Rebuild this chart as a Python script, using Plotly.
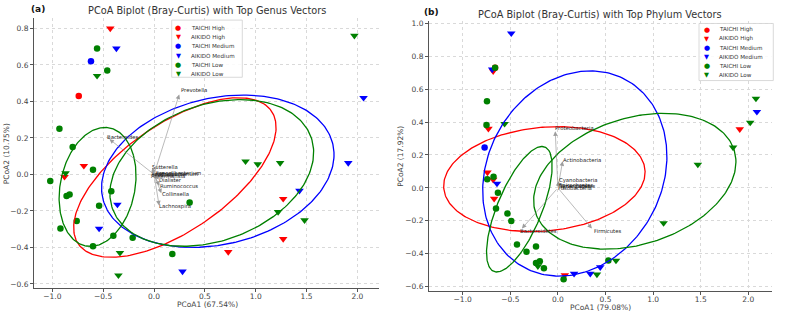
import numpy as np
import plotly.graph_objects as go

W, H = 787, 312
FONT = "DejaVu Sans"

# ---------------- legend / groups ----------------
group_names = ["TAICHI High", "AIKIDO High", "TAICHI Medium", "AIKIDO Medium", "TAICHI Low", "AIKIDO Low"]
group_colors = ["red", "red", "blue", "blue", "green", "green"]
group_symbols = ["circle", "triangle-down", "circle", "triangle-down", "circle", "triangle-down"]

# ---------------- panel (a): genus ----------------
a_th_x = [-0.74]
a_th_y = [0.43]
a_ah_x = [-0.43, -0.69, -0.88, 1.27, 1.27, 0.73]
a_ah_y = [0.80, 0.047, -0.013, -0.134, -0.354, -0.425]
a_tm_x = [-0.62]
a_tm_y = [0.62]
a_am_x = [-0.37, 2.06, 1.91, 1.43, 0.28, -0.36, -0.54]
a_am_y = [0.69, 0.42, 0.063, -0.089, -0.532, -0.165, -0.297]
a_tl_x = [-0.56, -0.46, -0.93, -0.80, 0.18, 0.35, -0.21, -0.40, -0.42, -0.54, -0.60, -0.60, -0.76, -0.92, -0.83, -0.86, -1.02]
a_tl_y = [0.69, 0.57, 0.25, 0.15, -0.436, -0.154, -0.347, -0.336, -0.092, -0.172, -0.394, 0.025, -0.255, -0.297, -0.11, -0.118, -0.036]
a_al_x = [-0.56, 1.97, 0.90, 1.02, 1.24, 1.22, 1.48, -0.335, -0.35, -0.87]
a_al_y = [0.54, 0.76, 0.072, 0.056, 0.063, -0.206, -0.251, -0.43, -0.553, 0.007]

# confidence ellipses (a): colour, centre, semi-axes, angle (deg, data space)
a_ell_color = ["red", "blue", "green", "green"]
a_ell_cx = [0.205, 0.627, -0.555, 0.568]
a_ell_cy = [-0.017, 0.0175, -0.0685, 0.008]
a_ell_a = [1.037, 1.147, 0.393, 1.009]
a_ell_b = [0.326, 0.406, 0.308, 0.383]
a_ell_ang = [17.2, 5.2, 25.9, 7.5]

a_vec_names = ["Prevotella", "Bacteroides", "Sutterella", "Faecalibacterium", "Bifidobacterium",
               "Agathobacter", "Akkermansia", "Blautia", "Dialister", "Ruminococcus", "Collinsella", "Lachnospira"]
a_vec_x = [0.248, -0.438, -0.015, 0.019, 0.022, -0.028, -0.024, 0.012, 0.048, 0.053, 0.072, 0.050]
a_vec_y = [0.438, 0.193, 0.038, 0.005, 0.003, -0.002, -0.006, -0.001, -0.028, -0.062, -0.103, -0.170]

# ---------------- panel (b): phylum ----------------
b_th_x = [-0.66]
b_th_y = [0.73]
b_ah_x = [-0.68, -0.73, 1.91, -0.74, -0.68, -0.67, 0.073]
b_ah_y = [0.71, 0.36, 0.357, 0.094, 0.05, -0.066, -0.53]
b_tm_x = [-0.77]
b_tm_y = [0.246]
b_am_x = [-0.49, -0.69, -0.64, 0.17, 0.34, 0.445, 2.09]
b_am_y = [0.94, 0.72, 0.026, -0.522, -0.522, -0.482, 0.463]
b_tl_x = [-0.66, -0.745, -0.75, -0.742, -0.676, -0.63, -0.65, -0.53, -0.49, -0.43, -0.33, -0.23, -0.23, -0.19, -0.147, 0.06, 0.53]
b_tl_y = [0.73, 0.527, 0.383, 0.052, 0.068, -0.03, -0.126, -0.156, -0.202, -0.344, -0.388, -0.356, -0.456, -0.446, -0.488, -0.556, -0.442]
b_al_x = [-0.56, 1.84, 2.02, 2.08, -0.21, 0.41, 0.61, 1.11, 1.47]
b_al_y = [0.39, 0.246, 0.397, 0.543, -0.476, -0.526, -0.442, -0.214, 0.142]

b_ell_color = ["red", "blue", "green", "green"]
b_ell_cx = [-0.142, 0.1775, -0.405, 0.8075]
b_ell_cy = [0.0535, 0.0875, -0.13, 0.0405]
b_ell_a = [1.059, 0.977, 0.473, 1.070]
b_ell_b = [0.316, 0.609, 0.202, 0.393]
b_ell_ang = [2.5, 10.2, 49.2, 7.3]

b_vec_names = ["Proteobacteria", "Actinobacteria", "Cyanobacteria", "Spirochaetes", "Tenericutes",
               "Synergistetes", "Fusobacteria", "Bacteroidetes", "Firmicutes"]
b_vec_x = [-0.028, 0.050, 0.007, 0.006, 0.006, 0.006, 0.005, -0.378, 0.357]
b_vec_y = [0.344, 0.162, 0.040, 0.015, 0.010, 0.006, 0.002, -0.247, -0.247]

# ---------------- helpers ----------------
def px(x):
    return x / W

def py(y):
    return 1 - y / H

def ellipse_xy(cx, cy, a, b, ang, n=240):
    t = np.linspace(0, 2 * np.pi, n)
    th = np.deg2rad(ang)
    x = cx + a * np.cos(t) * np.cos(th) - b * np.sin(t) * np.sin(th)
    y = cy + a * np.cos(t) * np.sin(th) + b * np.sin(t) * np.cos(th)
    return x, y

fig = go.Figure()
annotations = []
shapes = []

panels = [
    dict(xa="x", ya="y",
         pts=[(a_th_x, a_th_y), (a_ah_x, a_ah_y), (a_tm_x, a_tm_y), (a_am_x, a_am_y), (a_tl_x, a_tl_y), (a_al_x, a_al_y)],
         ell=(a_ell_color, a_ell_cx, a_ell_cy, a_ell_a, a_ell_b, a_ell_ang),
         vec=(a_vec_names, a_vec_x, a_vec_y)),
    dict(xa="x2", ya="y2",
         pts=[(b_th_x, b_th_y), (b_ah_x, b_ah_y), (b_tm_x, b_tm_y), (b_am_x, b_am_y), (b_tl_x, b_tl_y), (b_al_x, b_al_y)],
         ell=(b_ell_color, b_ell_cx, b_ell_cy, b_ell_a, b_ell_b, b_ell_ang),
         vec=(b_vec_names, b_vec_x, b_vec_y)),
]

for p in panels:
    for gi, (gx, gy) in enumerate(p["pts"]):
        fig.add_trace(go.Scatter(
            x=gx, y=gy, mode="markers", xaxis=p["xa"], yaxis=p["ya"],
            name=group_names[gi], showlegend=False,
            marker=dict(color=group_colors[gi], symbol=group_symbols[gi],
                        size=6.5 if group_symbols[gi] == "circle" else 7.5, line=dict(width=0)),
        ))
    col, cx, cy, ea, eb, ang = p["ell"]
    for i in range(len(col)):
        ex, ey = ellipse_xy(cx[i], cy[i], ea[i], eb[i], ang[i])
        fig.add_trace(go.Scatter(
            x=ex, y=ey, mode="lines", xaxis=p["xa"], yaxis=p["ya"], showlegend=False,
            line=dict(color=col[i], width=1.3), hoverinfo="skip",
        ))
    names, vx, vy = p["vec"]
    for n, x, y in zip(names, vx, vy):
        annotations.append(dict(
            x=x, y=y, ax=0, ay=0, xref=p["xa"], yref=p["ya"], axref=p["xa"], ayref=p["ya"],
            text="", showarrow=True, arrowhead=2, arrowsize=1.3, arrowwidth=0.7,
            arrowcolor="rgba(140,140,140,0.85)",
        ))
        annotations.append(dict(
            x=x * 1.05, y=y * 1.05, xref=p["xa"], yref=p["ya"], text=n, showarrow=False,
            xanchor="left", yanchor="middle", xshift=-1, borderpad=0,
            font=dict(family=FONT, size=5.3, color="#222222"),
        ))

# ---------------- titles / labels ----------------
title_specs = [
    ("PCoA Biplot (Bray-Curtis) with Top Genus Vectors", 206.5, 8.5),
    ("PCoA Biplot (Bray-Curtis) with Top Phylum Vectors", 600.3, 12.5),
]
for t, x, y in title_specs:
    annotations.append(dict(x=px(x), y=py(y), xref="paper", yref="paper", text=t, showarrow=False,
                            xanchor="center", yanchor="middle", font=dict(family=FONT, size=9.75, color="#333333")))
for t, x, y in [("<b>(a)</b>", 38, 7.5), ("<b>(b)</b>", 431, 10.5)]:
    annotations.append(dict(x=px(x), y=py(y), xref="paper", yref="paper", text=t, showarrow=False,
                            xanchor="center", yanchor="middle", font=dict(family=FONT, size=9, color="#111111")))
for t, x, y in [("PCoA1 (67.54%)", 207, 305.0), ("PCoA1 (79.08%)", 600.3, 308.0)]:
    annotations.append(dict(x=px(x), y=py(y), xref="paper", yref="paper", text=t, showarrow=False,
                            xanchor="center", yanchor="middle", font=dict(family=FONT, size=7.5, color="#444444")))
for t, x, y in [("PCoA2 (10.75%)", 6.7, 153), ("PCoA2 (17.92%)", 400.3, 156)]:
    annotations.append(dict(x=px(x), y=py(y), xref="paper", yref="paper", text=t, showarrow=False, textangle=-90,
                            xanchor="center", yanchor="middle", font=dict(family=FONT, size=7.5, color="#444444")))

# ---------------- manual legends ----------------
legend_specs = [
    dict(box=(171.7, 18.3, 242.3, 76.0), mx=178.3, tx=190.0, y0=26.3, dy=9.3),
    dict(box=(699.0, 21.7, 773.3, 79.3), mx=706.7, tx=718.3, y0=28.0, dy=9.2),
]
for L in legend_specs:
    x0, y0, x1, y1 = L["box"]
    shapes.append(dict(type="rect", xref="paper", yref="paper", x0=px(x0), x1=px(x1), y0=py(y1), y1=py(y0),
                       line=dict(color="#d0d0d0", width=0.8), fillcolor="rgba(255,255,255,0.85)", layer="above"))
    for i, gname in enumerate(group_names):
        yy = L["y0"] + i * L["dy"]
        glyph = "\u25CF" if group_symbols[i] == "circle" else "\u25BC"
        annotations.append(dict(x=px(L["mx"]), y=py(yy), xref="paper", yref="paper", text=glyph, showarrow=False,
                                xanchor="center", yanchor="middle",
                                font=dict(family=FONT, size=7 if glyph == "\u25CF" else 6.5, color=group_colors[i])))
        annotations.append(dict(x=px(L["tx"]), y=py(yy), xref="paper", yref="paper", text=gname, showarrow=False,
                                xanchor="left", yanchor="middle", xshift=-1,
                                font=dict(family=FONT, size=5.6, color="#333333")))

axis_common = dict(
    showgrid=True, gridcolor="#d9d9d9", griddash="dot", gridwidth=0.8,
    zeroline=False, showline=True, linecolor="#555555", linewidth=1,
    ticks="outside", ticklen=3, tickwidth=0.8, tickcolor="#555555",
    tickfont=dict(family=FONT, size=7.5, color="#444444"), tickformat=".1f",
)

fig.update_layout(
    width=W, height=H, margin=dict(l=0, r=0, t=0, b=0),
    paper_bgcolor="white", plot_bgcolor="white", showlegend=False,
    font=dict(family=FONT),
    xaxis=dict(domain=[px(34), px(379.3)], range=[-1.18, 2.215], dtick=0.5, tick0=0, anchor="y",
               ticklabelstandoff=-2, **axis_common),
    yaxis=dict(domain=[py(288.3), py(16)], range=[-0.62, 0.858], dtick=0.2, tick0=0, anchor="x", **axis_common),
    xaxis2=dict(domain=[px(429), px(772.3)], range=[-1.354, 2.252], dtick=0.5, tick0=0, anchor="y2",
                ticklabelstandoff=-2, **axis_common),
    yaxis2=dict(domain=[py(292.3), py(19)], range=[-0.63, 1.016], dtick=0.2, tick0=0, anchor="x2", **axis_common),
    annotations=annotations, shapes=shapes,
)

fig.write_html("out.html")
